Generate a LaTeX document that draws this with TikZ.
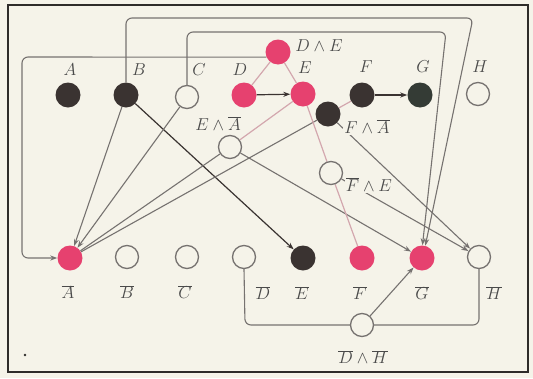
\documentclass[tikz,border=0pt]{standalone}
\usetikzlibrary{arrows.meta,backgrounds}
\definecolor{bgc}{HTML}{F5F3E9}
\definecolor{pinkc}{HTML}{E6416F}
\definecolor{darkc}{HTML}{3A3331}
\definecolor{greenc}{HTML}{343B35}
\definecolor{linec}{HTML}{767270}
\definecolor{pkline}{HTML}{D3A7AE}
\definecolor{textc}{HTML}{4A4A4A}
\definecolor{framec}{HTML}{2E2C2A}
\begin{document}
\begin{tikzpicture}[x=1pt,y=-1pt,
  dk/.style={circle,fill=darkc,minimum size=25pt,inner sep=0pt},
  gr/.style={circle,fill=greenc,minimum size=25pt,inner sep=0pt},
  pk/.style={circle,fill=pinkc,minimum size=25pt,inner sep=0pt},
  wh/.style={circle,draw=linec,line width=1.3pt,fill=bgc,minimum size=23pt,inner sep=0pt},
  lbl/.style={text=textc,inner sep=0pt,font=\fontsize{19}{22}\selectfont},
  tip/.style={-{Stealth[length=7pt,width=5pt]}},
  conn/.style={draw=linec,line width=1.1pt},
  dkline/.style={draw=darkc,line width=1.2pt},
  pkl/.style={draw=pkline,line width=1.2pt},
  loop/.style={conn,rounded corners=6pt}]
\useasboundingbox (0,0) rectangle (533,378);

% corner points of the routed connectors
\coordinate (dl1) at (22,57);
\coordinate (dl2) at (22,258);
\coordinate (bl1) at (126,18);
\coordinate (bl2) at (473,18);
\coordinate (cl1) at (187,32);
\coordinate (cl2) at (446,32);
\coordinate (dh1) at (245,325);
\coordinate (dh2) at (479,325);

% upper row
\path
  (68,95)   node[dk] (A) {}
  (126,95)  node[dk] (B) {}
  (187,97)  node[wh] (C) {}
  (244,95)  node[pk] (D) {}
  (303,94)  node[pk] (E) {}
  (362,95)  node[dk] (F) {}
  (420,95)  node[gr] (G) {}
  (478,94)  node[wh] (H) {}
  (278,52)  node[pk] (DE) {}
  (328,114) node[dk] (FA) {}
  (230,147) node[wh] (EA) {}
  (331,173) node[wh] (FE) {};
% lower row
\path
  (70,258)  node[pk] (Abar) {}
  (127,257) node[wh] (Bbar) {}
  (187,257) node[wh] (Cbar) {}
  (244,257) node[wh] (Dbar) {}
  (303,258) node[dk] (Ebar) {}
  (362,258) node[pk] (Fbar) {}
  (422,258) node[pk] (Gbar) {}
  (479,257) node[wh] (Hbar) {}
  (362,325) node[wh] (DH) {};

\begin{pgfonlayer}{background}
% paper and frame
\fill[bgc] (0,0) rectangle (533,378);
\draw[framec,line width=2.6pt] (8,5) rectangle (528,372);
\fill[framec] (25,355) circle (1.3pt);

% long routed connectors
\draw[loop,tip] (DE.204) -- (dl1) -- (dl2) -- (Abar.west);
\draw[loop,tip] (B.north) -- (bl1) -- (bl2) -- (Gbar.75);
\draw[loop,tip] (C.north) -- (cl1) -- (cl2) -- (Gbar.88);
\draw[loop] (Dbar.south) -- (dh1) -- (DH.west);
\draw[loop] (Hbar.south) -- (dh2) -- (DH.east);

% straight connectors
\draw[dkline,tip] (B) -- (Ebar);
\draw[conn,tip] (B) -- (Abar);
\draw[conn,tip] (C) -- (Abar);
\draw[conn] (EA) -- (Abar);
\draw[conn] (FA) -- (Abar);
\draw[conn,tip] (EA) -- (Gbar);
\draw[conn,tip] (FA) -- (Hbar);
\draw[conn,tip] (FE) -- (Hbar);
\draw[conn,tip] (DH) -- (Gbar);
\draw[dkline,tip] (D) -- (E);
\draw[dkline,tip] (F) -- (G);
\draw[pkl] (D) -- (DE);
\draw[pkl] (E) -- (DE);
\draw[pkl] (E) -- (EA);
\draw[pkl] (E) -- (FE);
\draw[pkl] (FE) -- (Fbar);
\draw[pkl] (F) -- (FA);
\end{pgfonlayer}

% labels
\node[lbl] (lA) at (70,70) {$A$};
\node[lbl] (lB) at (139,70) {$B$};
\node[lbl] (lC) at (199,70) {$C$};
\node[lbl] (lD) at (240,70) {$D$};
\node[lbl] (lE) at (305,68) {$E$};
\node[lbl] (lF) at (366,67) {$F$};
\node[lbl] (lG) at (423,67) {$G$};
\node[lbl] (lH) at (480,67) {$H$};
\node[lbl] (lDE) at (319,46) {$D\wedge E$};
\node[lbl] (lEA) at (218,124) {$E\wedge\overline{A}$};
\node[lbl,fill=bgc,inner sep=1pt] (lFA) at (367,127) {$F\wedge\overline{A}$};
\node[lbl,fill=bgc,inner sep=1pt] (lFE) at (369,185) {$\overline{F}\wedge E$};
\node[lbl] (lAb) at (68,292) {$\overline{A}$};
\node[lbl] (lBb) at (127,292) {$\overline{B}$};
\node[lbl] (lCb) at (185,292) {$\overline{C}$};
\node[lbl] (lDb) at (263,293) {$\overline{D}$};
\node[lbl] (lEb) at (302,293) {$\overline{E}$};
\node[lbl] (lFb) at (360,293) {$\overline{F}$};
\node[lbl] (lGb) at (422,293) {$\overline{G}$};
\node[lbl] (lHb) at (494,293) {$\overline{H}$};
\node[lbl] (lDH) at (363,357) {$\overline{D}\wedge\overline{H}$};
\end{tikzpicture}
\end{document}
